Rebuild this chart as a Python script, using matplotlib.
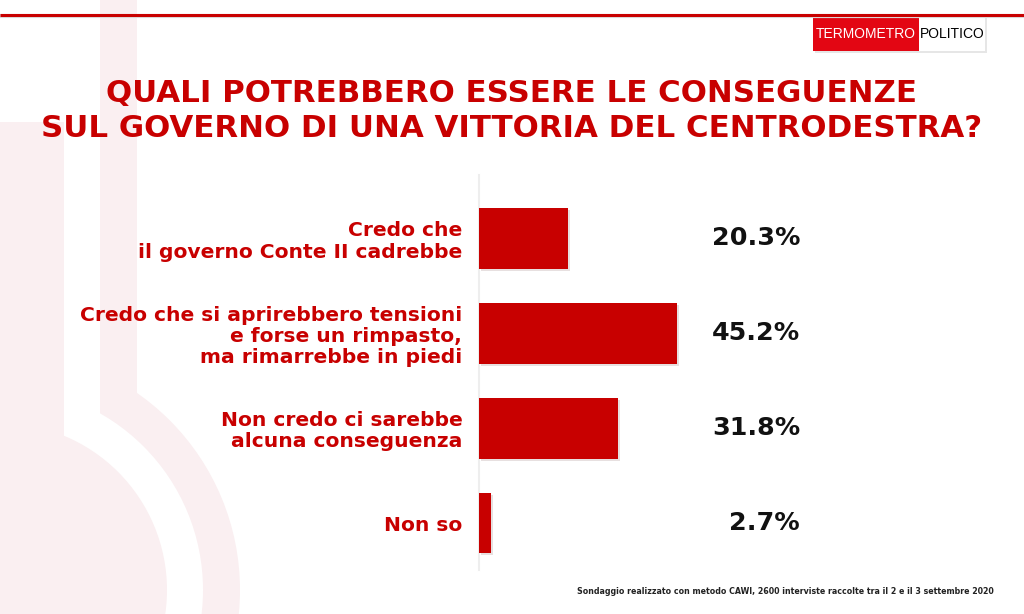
import matplotlib
matplotlib.use('Agg')
import matplotlib.pyplot as plt
from matplotlib.patches import Rectangle, Circle
import matplotlib.transforms as mtransforms
import matplotlib.patheffects as pe

# --- data
answers = ['Credo che\nil governo Conte II cadrebbe',
           'Credo che si aprirebbero tensioni\ne forse un rimpasto,\nma rimarrebbe in piedi',
           'Non credo ci sarebbe\nalcuna conseguenza',
           'Non so']
values = [20.3, 45.2, 31.8, 2.7]
value_labels = ['20.3%', '45.2%', '31.8%', '2.7%']

title = 'QUALI POTREBBERO ESSERE LE CONSEGUENZE\nSUL GOVERNO DI UNA VITTORIA DEL CENTRODESTRA?'
note = 'Sondaggio realizzato con metodo CAWI, 2600 interviste raccolte tra il 2 e il 3 settembre 2020'

RED = '#c80000'
PINK = '#faeff1'
FONT = 'DejaVu Sans'

W, H = 1024, 614
fig = plt.figure(figsize=(W/100, H/100), dpi=100)
fig.patch.set_facecolor('white')

# --- background (watermark thermometer, top line, logo), in pixel coords
bg = fig.add_axes([0, 0, 1, 1])
bg.set_xlim(0, W)
bg.set_ylim(H, 0)
bg.axis('off')
bg.add_patch(Circle((0, 590), 240, color=PINK, lw=0))
bg.add_patch(Rectangle((-300, -10), 437, 420, color=PINK, lw=0))
bg.add_patch(Circle((0, 590), 203, color='white', lw=0))
bg.add_patch(Rectangle((-300, -10), 400, 440, color='white', lw=0))
bg.add_patch(Circle((0, 590), 167, color=PINK, lw=0))
bg.add_patch(Rectangle((-300, 122), 364, 330, color=PINK, lw=0))

bg.plot([0, W], [16, 16], color='#dddddd', lw=3, solid_capstyle='butt')
bg.plot([0, W], [15, 15], color=RED, lw=2.2, solid_capstyle='butt')
bg.add_patch(Rectangle((815, 17), 172, 36, color='#e6e6e6', lw=0))
bg.add_patch(Rectangle((813, 15), 106, 36, color='#e30613', lw=0))
bg.add_patch(Rectangle((919, 15), 66, 36, color='white', lw=0))
bg.text(866, 34, 'TERMOMETRO', color='white', fontsize=10, ha='center', va='center',
        family='Liberation Sans')
bg.text(952, 34, 'POLITICO', color='black', fontsize=10, ha='center', va='center',
        family='Liberation Sans')

bg.text(512, 111, title, color=RED, fontsize=22.2, fontweight='bold', family=FONT,
        ha='center', va='center', linespacing=1.3)
bg.text(994, 592, note, color='#222222', fontsize=5.7, fontweight='bold', family=FONT,
        ha='right', va='center')

# --- bars
ax = fig.add_axes([479/W, 1 - 570/H, 321/W, 395/H])
ax.patch.set_alpha(0)
pos = list(range(len(values)))
bars = ax.barh(pos, values, height=0.64, color=RED, zorder=3)
for b in bars:
    b.set_path_effects([pe.SimplePatchShadow(offset=(1.5, -1.5), alpha=0.12), pe.Normal()])
ax.set_xlim(0, 321/4.38)
ax.set_ylim(3.495, -0.668)
for s in ['top', 'right', 'bottom']:
    ax.spines[s].set_visible(False)
ax.spines['left'].set_color('#eeeeee')
ax.spines['left'].set_linewidth(1.5)
ax.set_xticks([])
ax.set_yticks(pos)
ax.set_yticklabels(answers, color=RED, fontsize=14.6, fontweight='bold', family=FONT,
                   linespacing=1.15)
ax.tick_params(axis='y', length=0, pad=12)

trans = mtransforms.blended_transform_factory(ax.transAxes, ax.transData)
for p, lab in zip(pos, value_labels):
    ax.text(1.0, p, lab, transform=trans, ha='right', va='center', fontsize=18.3,
            fontweight='bold', family=FONT, color='#111111')

fig.savefig('out.png', dpi=100)
